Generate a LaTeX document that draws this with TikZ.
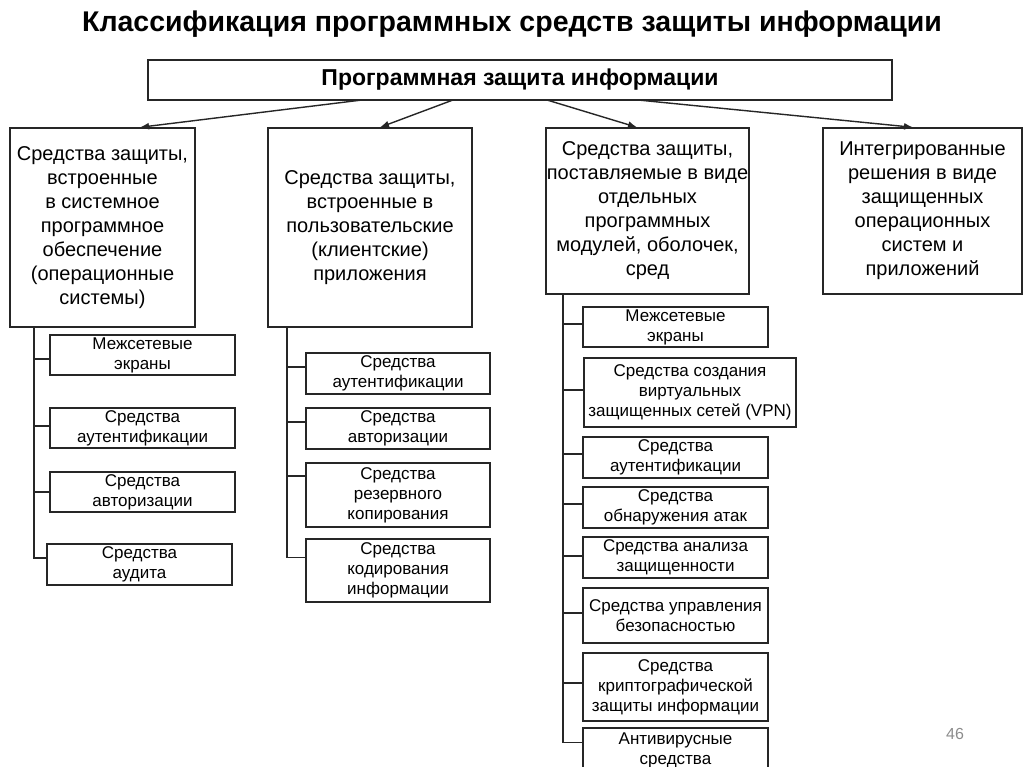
\documentclass[tikz,border=0pt]{standalone}
\usepackage{fontspec}
\setmainfont{Liberation Sans}
\usetikzlibrary{arrows.meta}
\newcommand\mybox[7][box]{\node[#1,minimum width={#5pt-#3pt},minimum height={#6pt-#4pt}] (#2) at ({(#3+#5)/2},{(#4+#6)/2}) {#7};}
\begin{document}
\begin{tikzpicture}[x=1pt,y=-1pt,
  box/.style={draw=black!85,line width=1.4pt,inner sep=0pt,align=center,font=\fontsize{20}{24}\selectfont},
  sub/.style={box,font=\fontsize{17}{20}\selectfont},
  arr/.style={draw=black!85,line width=1.4pt,-{Latex[length=9pt,width=7pt]}},
  tree/.style={draw=black!85,line width=1.4pt}]
\useasboundingbox (0,0) rectangle (1024,767);
\clip (0,0) rectangle (1024,767);
\node[font=\fontsize{28.5}{32}\selectfont\bfseries] (title) at (512,24) {Классификация программных средств защиты информации};
\mybox{hd}{148}{60}{892}{100}{\fontsize{23}{26}\selectfont\bfseries Программная защита информации}
\mybox{b1}{10}{128}{195}{327}{Средства защиты,\\встроенные\\в системное\\программное\\обеспечение\\(операционные\\системы)}
\mybox{b2}{268}{128}{472}{327}{Средства защиты,\\встроенные в\\пользовательские\\(клиентские)\\приложения}
\mybox{b3}{546}{128}{749}{294}{Средства защиты,\\поставляемые в виде\\отдельных\\программных\\модулей, оболочек,\\сред}
\mybox{b4}{823}{128}{1022}{294}{Интегрированные\\решения в виде\\защищенных\\операционных\\систем и\\приложений}
% arrows
\coordinate (s1) at (362,100);
\coordinate (s2) at (453,100);
\coordinate (s3) at (547,100);
\coordinate (s4) at (638,100);
\draw[arr] (s1) -- ([xshift=37.5pt]b1.north);
\draw[arr] (s2) -- ([xshift=10pt]b2.north);
\draw[arr] (s3) -- ([xshift=-10.5pt]b3.north);
\draw[arr] (s4) -- ([xshift=-9.5pt]b4.north);
% column 1
\mybox[sub]{c1a}{50}{335}{235}{375}{Межсетевые\\экраны}
\mybox[sub]{c1b}{50}{408}{235}{448}{Средства\\аутентификации}
\mybox[sub]{c1c}{50}{472}{235}{512}{Средства\\авторизации}
\mybox[sub]{c1d}{47}{544}{232}{585}{Средства\\аудита}
\coordinate (t1) at (34,327);
\coordinate (k1a) at ([yshift=-4pt]c1a.west);
\coordinate (k1b) at ([yshift=2pt]c1b.west);
\coordinate (k1c) at (c1c.west);
\coordinate (k1d) at ([yshift=6.5pt]c1d.west);
\draw[tree] (t1) |- (k1d);
\foreach \k in {k1a,k1b,k1c} \draw[tree] (t1 |- \k) -- (\k);
% column 2
\mybox[sub]{c2a}{306}{353}{490}{394}{Средства\\аутентификации}
\mybox[sub]{c2b}{306}{408}{490}{449}{Средства\\авторизации}
\mybox[sub]{c2c}{306}{463}{490}{527}{Средства\\резервного\\копирования}
\mybox[sub]{c2d}{306}{539}{490}{602}{Средства\\кодирования\\информации}
\coordinate (t2) at (287,327);
\coordinate (k2a) at ([yshift=6.5pt]c2a.west);
\coordinate (k2b) at ([yshift=6.5pt]c2b.west);
\coordinate (k2c) at ([yshift=19pt]c2c.west);
\coordinate (k2d) at ([yshift=13pt]c2d.west);
\draw[tree] (t2) |- (k2d);
\foreach \k in {k2a,k2b,k2c} \draw[tree] (t2 |- \k) -- (\k);
% column 3
\mybox[sub]{c3a}{583}{307}{768}{347}{Межсетевые\\экраны}
\mybox[sub]{c3b}{584}{358}{796}{427}{Средства создания\\виртуальных\\защищенных сетей (VPN)}
\mybox[sub]{c3c}{583}{437}{768}{478}{Средства\\аутентификации}
\mybox[sub]{c3d}{583}{487}{768}{528}{Средства\\обнаружения атак}
\mybox[sub]{c3e}{583}{537}{768}{578}{Средства анализа\\защищенности}
\mybox[sub]{c3f}{583}{588}{768}{643}{Средства управления\\безопасностью}
\mybox[sub]{c3g}{583}{653}{768}{721}{Средства\\криптографической\\защиты информации}
\mybox[sub]{c3h}{583}{728}{768}{773}{Антивирусные\\средства}
\coordinate (t3) at (563,294);
\coordinate (k3a) at ([yshift=3pt]c3a.west);
\coordinate (k3b) at ([yshift=2.5pt]c3b.west);
\coordinate (k3c) at ([yshift=3.5pt]c3c.west);
\coordinate (k3d) at ([yshift=3.5pt]c3d.west);
\coordinate (k3e) at ([yshift=1.5pt]c3e.west);
\coordinate (k3f) at ([yshift=2.5pt]c3f.west);
\coordinate (k3g) at ([yshift=4pt]c3g.west);
\coordinate (k3h) at ([yshift=8pt]c3h.west);
\draw[tree] (t3) |- (k3h);
\foreach \k in {k3a,k3b,k3c,k3d,k3e,k3f,k3g} \draw[tree] (t3 |- \k) -- (\k);
\node[text=black!45,font=\fontsize{16}{18}\selectfont] (pg) at (955,734) {46};
\end{tikzpicture}
\end{document}
